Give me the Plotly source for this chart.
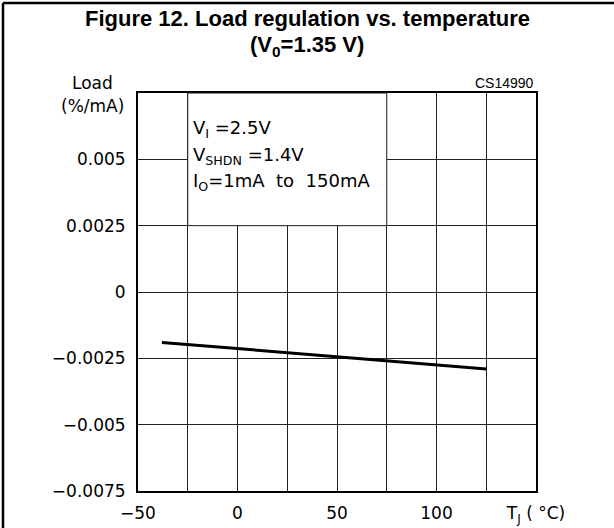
import plotly.graph_objects as go

# Data
temp_c = [-38, 0, 50, 125]
load_reg = [-0.0019, -0.00213, -0.00245, -0.0029]

x_tickvals = [-50, -25, 0, 25, 50, 75, 100, 125, 150]
x_ticktext = ["\u221250", "", "0", "", "50", "", "100", "", "T<sub>J</sub> ( \u00b0C)"]
y_tickvals = [-0.0075, -0.005, -0.0025, 0, 0.0025, 0.005, 0.0075]
y_ticktext = ["\u22120.0075", "\u22120.005", "\u22120.0025", "0", "0.0025", "0.005", ""]

W, H = 614, 528
# plot area in pixels
L, R, T, B = 138, 536, 93, 491
pw, ph = R - L, B - T

def px(x):
    return (x - L) / pw

def py(y):
    return (B - y) / ph

FONT = "DejaVu Sans, Verdana, sans-serif"
TFONT = "Liberation Sans, Arial, sans-serif"
GRID = "#222222"

fig = go.Figure()
fig.add_trace(go.Scatter(x=temp_c, y=load_reg, mode="lines",
                         line=dict(color="black", width=3), showlegend=False,
                         hoverinfo="skip"))

fig.update_layout(
    width=W, height=H,
    margin=dict(l=L, r=W - R, t=T, b=H - B, pad=0, autoexpand=False),
    paper_bgcolor="white", plot_bgcolor="white",
    font=dict(family=FONT, size=17, color="black"),
    xaxis=dict(range=[-50, 150], tickvals=x_tickvals, ticktext=x_ticktext,
               showgrid=True, gridcolor=GRID, gridwidth=1, zeroline=False,
               showline=True, linecolor="black", linewidth=2, mirror=True,
               ticks="", ticklabelstandoff=6, tickfont=dict(size=17),
               automargin=False, fixedrange=True),
    yaxis=dict(range=[-0.0075, 0.0075], tickvals=y_tickvals, ticktext=y_ticktext,
               showgrid=True, gridcolor=GRID, gridwidth=1, zeroline=False,
               showline=True, linecolor="black", linewidth=2, mirror=True,
               ticks="", ticklabelstandoff=7, tickfont=dict(size=17),
               automargin=False, fixedrange=True),
)

# White info box covering gridlines
fig.add_shape(type="rect", xref="x", yref="y", x0=-25, x1=75, y0=0.0025, y1=0.0075,
              fillcolor="white", line=dict(color=GRID, width=1), layer="between")

# Outer frame (left/top edges visible, right/bottom beyond the picture)
fig.add_shape(type="line", xref="paper", yref="paper",
              x0=px(3), x1=px(3), y0=py(3), y1=py(540),
              line=dict(color="black", width=2.5), layer="above")
fig.add_shape(type="line", xref="paper", yref="paper",
              x0=px(3), x1=px(620), y0=py(3), y1=py(3),
              line=dict(color="black", width=2.5), layer="above")

def addtext(text, x, y, size, xanchor="center", bold=False, family=FONT):
    fig.add_annotation(text=("<b>%s</b>" % text) if bold else text,
                       xref="paper", yref="paper", x=px(x), y=py(y),
                       xanchor=xanchor, yanchor="middle", showarrow=False,
                       font=dict(family=family, size=size, color="black"))

addtext("Figure 12. Load regulation vs. temperature", 307, 19, 22, bold=True, family=TFONT)
addtext("(V<sub>0</sub>=1.35 V)", 307, 46, 22, bold=True, family=TFONT)
addtext("Load", 92, 83, 17)
addtext("(%/mA)", 92, 106, 17)
addtext("CS14990", 536, 83, 14, xanchor="right", family=TFONT)
addtext("V<sub>I</sub> =2.5V", 191, 129, 18, xanchor="left")
addtext("V<sub>SHDN</sub> =1.4V", 191, 156, 18, xanchor="left")
addtext("I<sub>O</sub>=1mA  to  150mA", 191, 182, 18, xanchor="left")

fig.write_html(
    "out.html",
    config={"displayModeBar": False, "staticPlot": True},
    post_script="document.body.style.margin='0';"
                "document.documentElement.style.overflow='hidden';",
)
